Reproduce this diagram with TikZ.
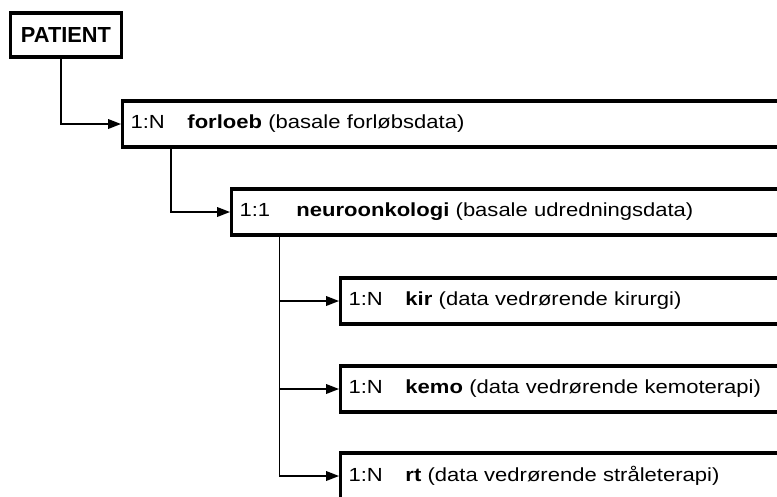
\documentclass[tikz,border=0pt]{standalone}
\usepackage{fontspec}
\setmainfont{Liberation Sans}
\newfontfamily\entityfont{Liberation Sans}[FakeStretch=1.16]
\usetikzlibrary{arrows.meta}

\tikzset{
  entity/.style={draw, line width=2.3pt, anchor=west, inner xsep=0.2cm,
    text width=20cm, align=left, minimum height=1.15cm,
    font=\fontsize{13.5}{16}\entityfont},
  link/.style={line width=1pt, -{Triangle[length=0.32cm,width=0.24cm]}},
}
\newcommand{\card}[2][1.42cm]{\makebox[#1][l]{#2}}

\begin{document}
\begin{tikzpicture}[x=0.025cm,y=-0.025cm]
            \useasboundingbox (0,0) rectangle (777,496);
            \clip (0,0) rectangle (777,496);
            \node[draw, line width=2.3pt, minimum width=2.775cm, minimum height=1.1cm,
                  font=\fontsize{15.5}{18}\selectfont\bfseries] (patient) at (66,35) {PATIENT};

            \node[entity] (forloeb) at (121,124) {\card{1:N}\textbf{forloeb} (basale forløbsdata)};
            \node[entity] (neuro) at (230,212) {\card{1:1}\textbf{neuroonkologi} (basale udredningsdata)};
            \node[entity] (kir) at (339,301) {\card{1:N}\textbf{kir} (data vedrørende kirurgi)};
            \node[entity] (kemo) at (339,389) {\card{1:N}\textbf{kemo} (data vedrørende kemoterapi)};
            \node[entity] (rt) at (339,476) {\card{1:N}\textbf{rt} (data vedrørende stråleterapi)};

            \draw[link] ([xshift=-0.12cm]patient.south) |- (forloeb.west);
            \draw[link] ([xshift=1.25cm]forloeb.south west) |- (neuro.west);
            \draw[link] ([xshift=1.23cm]neuro.south west) |- (kir.west);
            \draw[link] ([xshift=1.23cm]neuro.south west) |- (kemo.west);
            \draw[link] ([xshift=1.23cm]neuro.south west) |- (rt.west);
        \end{tikzpicture}
\end{document}
